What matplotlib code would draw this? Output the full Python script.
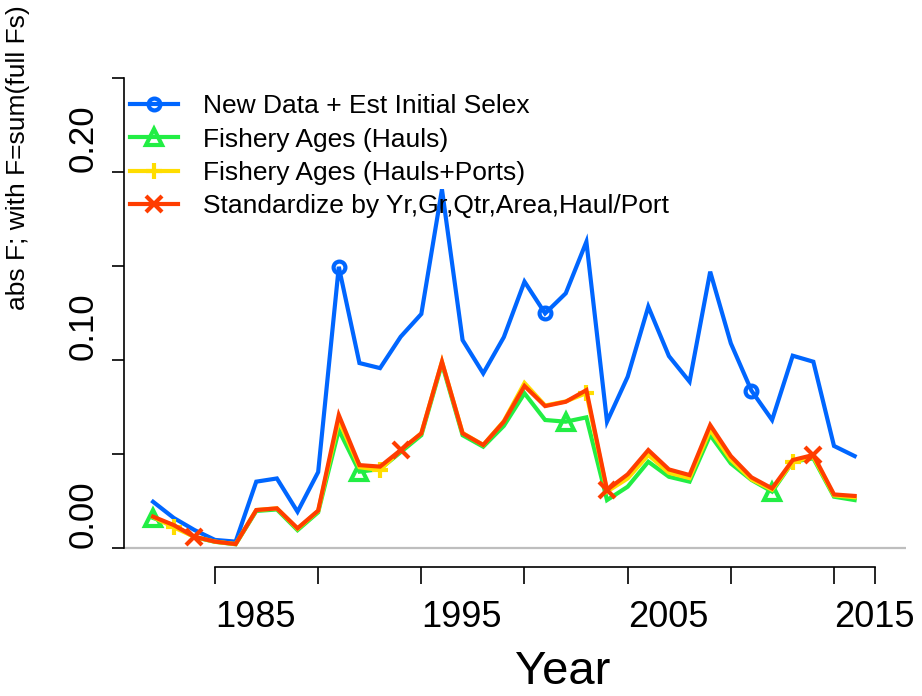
import matplotlib
matplotlib.use('Agg')
import matplotlib.pyplot as plt
from matplotlib.ticker import FixedLocator, FixedFormatter

plt.rcParams['font.family'] = ['Liberation Sans', 'DejaVu Sans']

years = list(range(1982, 2017))
new_data = [0.0246, 0.0160, 0.0096, 0.0043, 0.0034, 0.0353, 0.0370, 0.0193, 0.0404, 0.1496,
            0.0984, 0.0957, 0.1124, 0.1245, 0.1908, 0.1106, 0.0929, 0.1122, 0.1417, 0.1248,
            0.1355, 0.1629, 0.0672, 0.0911, 0.1284, 0.1021, 0.0885, 0.1470, 0.1089, 0.0837,
            0.0681, 0.1023, 0.0991, 0.0543, 0.0489]
hauls = [0.0160, 0.0120, 0.0058, 0.0033, 0.0020, 0.0197, 0.0205, 0.0095, 0.0190, 0.0628,
         0.0406, 0.0420, 0.0510, 0.0600, 0.0980, 0.0600, 0.0539, 0.0650, 0.0823, 0.0681,
         0.0672, 0.0695, 0.0255, 0.0326, 0.0459, 0.0379, 0.0353, 0.0601, 0.0450, 0.0362,
         0.0300, 0.0459, 0.0477, 0.0273, 0.0255]
hauls_ports = [0.0165, 0.0110, 0.0060, 0.0034, 0.0021, 0.0202, 0.0211, 0.0102, 0.0197, 0.0680,
               0.0430, 0.0415, 0.0520, 0.0610, 0.0991, 0.0612, 0.0548, 0.0675, 0.0878, 0.0758,
               0.0780, 0.0824, 0.0300, 0.0370, 0.0495, 0.0400, 0.0372, 0.0628, 0.0470, 0.0365,
               0.0310, 0.0459, 0.0485, 0.0280, 0.0270]
standardized = [0.0167, 0.0122, 0.0060, 0.0034, 0.0021, 0.0202, 0.0211, 0.0105, 0.0199, 0.0707,
                0.0441, 0.0433, 0.0521, 0.0610, 0.0991, 0.0610, 0.0548, 0.0672, 0.0862, 0.0755,
                0.0778, 0.0840, 0.0309, 0.0392, 0.0521, 0.0418, 0.0388, 0.0654, 0.0489, 0.0376,
                0.0317, 0.0468, 0.0495, 0.0285, 0.0277]

labels = ["New Data + Est Initial Selex", "Fishery Ages (Hauls)",
          "Fishery Ages (Hauls+Ports)", "Standardize by Yr,Gr,Qtr,Area,Haul/Port"]
colors = ["#0066FF", "#22EE44", "#FFDD00", "#FF3D00"]
markers = ["o", "^", "+", "x"]
mark_idx = [[9, 19, 29], [0, 10, 20, 30], [1, 11, 21, 31], [2, 12, 22, 32]]
series = [new_data, hauls, hauls_ports, standardized]

y_ticks = [0.0, 0.05, 0.10, 0.15, 0.20, 0.25]
y_labels = ["0.00", "", "0.10", "", "0.20", ""]
x_ticks = [1985, 1990, 1995, 2000, 2005, 2010, 2015, 2017]
x_labels = ["1985", "", "1995", "", "2005", "", "2015", ""]

fig = plt.figure(figsize=(9.22, 6.96), dpi=100)
ax = fig.add_axes([124/922, 1 - 567/696, 782/922, 513/696])
ax.set_xlim(1980.59, 2018.49)
ax.set_ylim(-0.0101, 0.2628)

ax.axhline(0, color="#BEBEBE", lw=1.6, zorder=1)

handles = []
for s, c, m, idx, lab in zip(series, colors, markers, mark_idx, labels):
    mfc = "none" if m in ("o", "^") else c
    h, = ax.plot(years, s, color=c, lw=3, marker=m, markevery=idx,
                 markersize=12 if m != "o" else 8.5, markeredgewidth=3,
                 markerfacecolor=mfc, markeredgecolor=c, label=lab, zorder=2,
                 solid_joinstyle='miter')
    handles.append(h)

for sp in ["top", "right"]:
    ax.spines[sp].set_visible(False)
ax.spines["left"].set_bounds(0, 0.25)
ax.spines["bottom"].set_bounds(1985, 2017)
ax.spines["left"].set_linewidth(1.2)
ax.spines["bottom"].set_linewidth(1.2)

ax.yaxis.set_major_locator(FixedLocator(y_ticks))
ax.yaxis.set_major_formatter(FixedFormatter(y_labels))
ax.tick_params(axis='y', which='major', length=11.7*0.72, width=1.2, labelsize=25,
               pad=9, labelrotation=90)
for t in ax.get_yticklabels():
    t.set_va('bottom')

ax.xaxis.set_major_locator(FixedLocator(x_ticks))
ax.xaxis.set_major_formatter(FixedFormatter(x_labels))
ax.tick_params(axis='x', which='major', length=12, width=1.2, labelsize=26, pad=12)
for t in ax.get_xticklabels():
    t.set_ha('left')

fig.text(515/922, 1 - 672/696, "Year", fontsize=34, ha='left', va='center')
fig.text(18/922, 1 - 310/696, "abs F; with F=sum(full Fs)", fontsize=19, rotation=90,
         ha='center', va='bottom')

leg = ax.legend(handles=handles, loc='upper left',
                bbox_to_anchor=(130/922, 1 - 94/696), bbox_transform=fig.transFigure,
                frameon=False, fontsize=19, handlelength=1.82, handletextpad=0.95,
                labelspacing=0.36, borderpad=0, borderaxespad=0, numpoints=1)

fig.savefig("out.png", dpi=100)
